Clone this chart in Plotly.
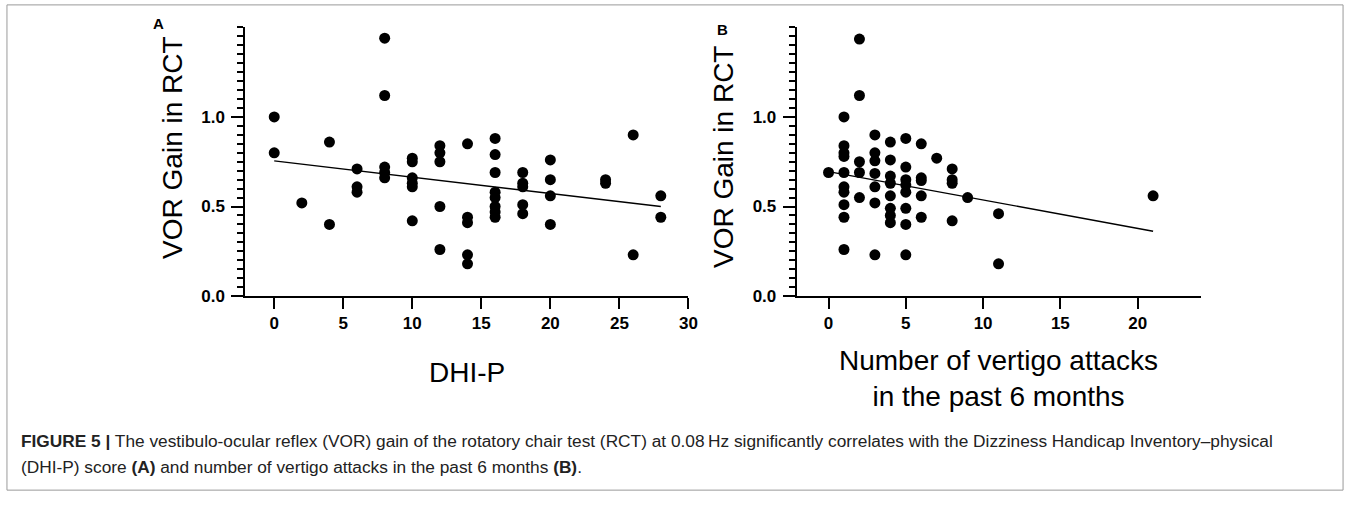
import plotly.graph_objects as go

# Panel A: DHI-P score vs VOR gain
dhi_p = [0, 0, 2, 4, 4, 6, 6, 6, 8, 8, 8, 8, 8,
         10, 10, 10, 10, 10, 10, 12, 12, 12, 12, 12,
         14, 14, 14, 14, 14, 16, 16, 16, 16, 16, 16, 16, 16,
         18, 18, 18, 18, 18, 20, 20, 20, 20, 24, 24, 26, 26, 28, 28]
gain_a = [1.00, 0.80, 0.52, 0.86, 0.40, 0.71, 0.61, 0.58, 1.44, 1.12, 0.72, 0.69, 0.66,
          0.77, 0.75, 0.66, 0.63, 0.61, 0.42, 0.84, 0.80, 0.75, 0.50, 0.26,
          0.85, 0.44, 0.41, 0.23, 0.18, 0.88, 0.79, 0.69, 0.58, 0.55, 0.50, 0.47, 0.44,
          0.69, 0.63, 0.61, 0.51, 0.46, 0.76, 0.65, 0.56, 0.40, 0.65, 0.63, 0.90, 0.23, 0.56, 0.44]
fit_a_x = [0, 28]
fit_a_y = [0.755, 0.50]

# Panel B: vertigo attacks vs VOR gain
attacks = [0,
           1, 1, 1, 1, 1, 1, 1, 1, 1, 1,
           2, 2, 2, 2, 2,
           3, 3, 3, 3, 3, 3, 3,
           4, 4, 4, 4, 4, 4, 4, 4,
           5, 5, 5, 5, 5, 5, 5, 5,
           6, 6, 6, 6, 6, 7, 8, 8, 8, 8, 9, 11, 11, 21]
gain_b = [0.69,
          1.00, 0.84, 0.80, 0.78, 0.69, 0.61, 0.58, 0.51, 0.44, 0.26,
          1.435, 1.12, 0.75, 0.69, 0.55,
          0.90, 0.80, 0.755, 0.685, 0.61, 0.52, 0.23,
          0.86, 0.76, 0.67, 0.63, 0.56, 0.49, 0.45, 0.41,
          0.88, 0.72, 0.65, 0.62, 0.58, 0.49, 0.40, 0.23,
          0.85, 0.66, 0.645, 0.56, 0.44, 0.77, 0.71, 0.65, 0.63, 0.42, 0.55, 0.46, 0.18, 0.56]
fit_b_x = [0, 21]
fit_b_y = [0.695, 0.362]

W, H = 1360, 507
FONT = "Liberation Sans, Arial, sans-serif"


def px(x):
    return x / W


def py(y):
    return 1 - y / H


fig = go.Figure()
for xs, ys, fx, fy, ax in [
    (dhi_p, gain_a, fit_a_x, fit_a_y, ""),
    (attacks, gain_b, fit_b_x, fit_b_y, "2"),
]:
    fig.add_trace(go.Scatter(
        x=xs, y=ys, mode="markers", xaxis="x" + ax, yaxis="y" + ax,
        marker=dict(size=11, color="black"), cliponaxis=False, showlegend=False,
    ))
    fig.add_trace(go.Scatter(
        x=fx, y=fy, mode="lines", xaxis="x" + ax, yaxis="y" + ax,
        line=dict(color="black", width=1.4), showlegend=False,
    ))

minor_vals = [i * 0.05 for i in range(31)]
yax = dict(
    range=[0, 1.5], domain=[py(302), py(28)],
    showline=True, linecolor="black", linewidth=2,
    showgrid=False, zeroline=False,
    tickmode="array", tickvals=[0, 0.5, 1.0], ticktext=["0.0", "0.5", "1.0"],
    ticks="outside", ticklen=12, tickwidth=2, tickcolor="black",
    ticklabelstandoff=3,
    tickfont=dict(family=FONT, size=17, color="black", weight="bold"),
    minor=dict(tickmode="array", tickvals=minor_vals, ticks="outside",
               ticklen=6, tickwidth=1.5, tickcolor="black", showgrid=False),
)
xax = dict(
    showline=True, linecolor="black", linewidth=2,
    showgrid=False, zeroline=False,
    ticks="outside", ticklen=11, tickwidth=2, tickcolor="black",
    tickfont=dict(family=FONT, size=17, color="black", weight="bold"),
)

fig.update_layout(
    width=W, height=H,
    margin=dict(l=0, r=0, t=0, b=0),
    plot_bgcolor="white", paper_bgcolor="white",
    xaxis=dict(xax, domain=[px(247), px(693)], range=[-2.09, 30],
               tickvals=[0, 5, 10, 15, 20, 25, 30], anchor="y"),
    yaxis=dict(yax, anchor="x"),
    xaxis2=dict(xax, domain=[px(802), px(1209)], range=[-2.06, 24.1],
                tickvals=[0, 5, 10, 15, 20], anchor="y2"),
    yaxis2=dict(yax, anchor="x2"),
    shapes=[dict(type="rect", xref="paper", yref="paper",
                 x0=px(7), x1=px(1352), y0=py(500), y1=py(5),
                 line=dict(color="#9a9a9a", width=1))],
)

ann = [
    dict(text="<b>A</b>", x=px(160), y=py(24), size=15),
    dict(text="<b>B</b>", x=px(727), y=py(30), size=15),
    dict(text="VOR Gain in RCT", x=px(173), y=py(150), size=28, angle=-90),
    dict(text="VOR Gain in RCT", x=px(729), y=py(160), size=28, angle=-90),
    dict(text="DHI-P", x=px(470), y=py(380), size=28),
    dict(text="Number of vertigo attacks<br>in the past 6 months", x=px(1005), y=py(386), size=28),
]
for a in ann:
    fig.add_annotation(
        text=a["text"], x=a["x"], y=a["y"], xref="paper", yref="paper",
        xanchor="center", yanchor="middle", showarrow=False,
        textangle=a.get("angle", 0),
        font=dict(family=FONT, size=a["size"], color="black"),
    )

caption = [
    "<b>FIGURE 5 |</b> The vestibulo-ocular reflex (VOR) gain of the rotatory chair test (RCT) at 0.08\u2009Hz "
    "significantly correlates with the Dizziness Handicap Inventory\u2013physical",
    "(DHI-P) score <b>(A)</b> and number of vertigo attacks in the past 6 months <b>(B)</b>.",
]
for i, line in enumerate(caption):
    fig.add_annotation(
        text=line, x=px(19), y=py(450 + 26 * i), xref="paper", yref="paper",
        xanchor="left", yanchor="middle", showarrow=False,
        font=dict(family=FONT, size=17.3, color="#222"),
    )

fig.write_html(
    "out.html",
    config={"displayModeBar": False},
    post_script="document.body.style.margin = '0';",
)
